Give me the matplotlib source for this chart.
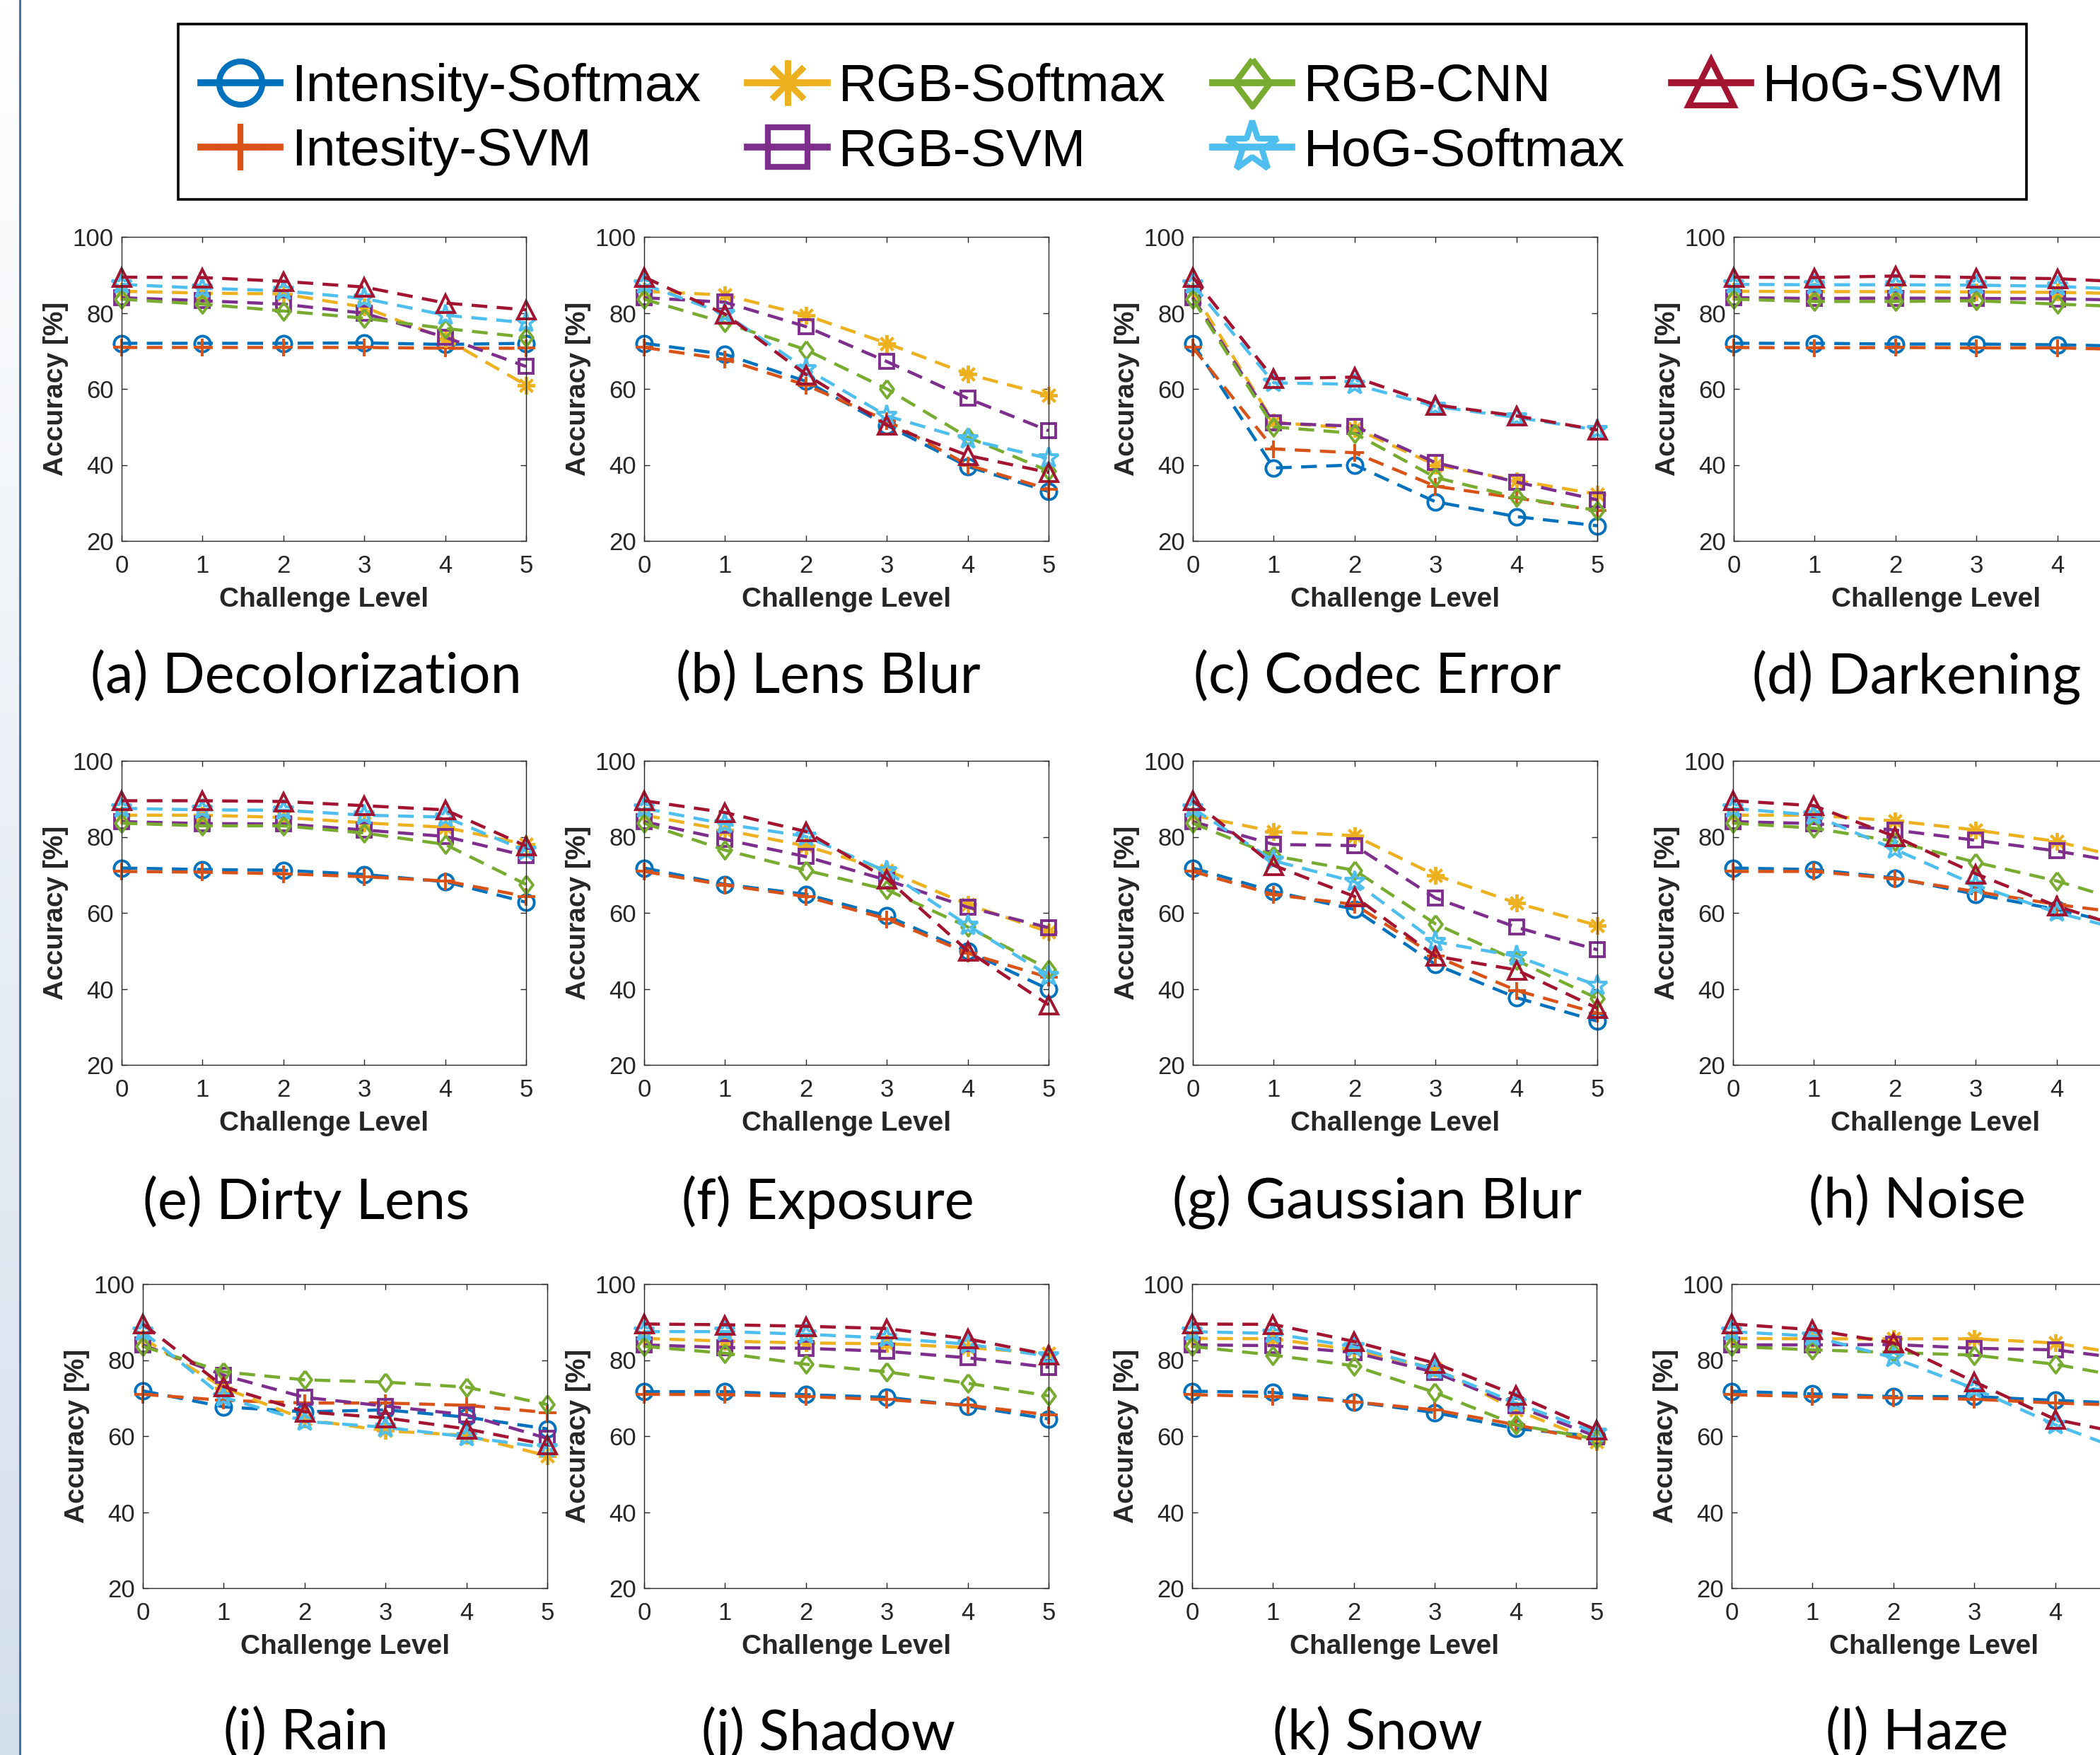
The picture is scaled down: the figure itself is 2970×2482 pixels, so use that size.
import numpy as np
import matplotlib
matplotlib.use("Agg")
import matplotlib.pyplot as plt
from matplotlib.lines import Line2D
from matplotlib.patches import Rectangle
from matplotlib.colors import LinearSegmentedColormap

# ---- data -------------------------------------------------------------
levels = [0, 1, 2, 3, 4, 5]

panel_titles = ["(a) Decolorization", "(b) Lens Blur", "(c) Codec Error", "(d) Darkening",
                "(e) Dirty Lens", "(f) Exposure", "(g) Gaussian Blur", "(h) Noise",
                "(i) Rain", "(j) Shadow", "(k) Snow", "(l) Haze"]

method_names = ["Intensity-Softmax", "Intesity-SVM", "RGB-Softmax", "RGB-SVM",
                "RGB-CNN", "HoG-Softmax", "HoG-SVM"]

# one row per panel (a..l), one column per challenge level
intensity_softmax = [
    [72.0, 72.0, 72.0, 72.1, 71.7, 72.0],
    [72.0, 69.1, 62.0, 50.4, 39.6, 33.0],
    [72.0, 39.2, 40.0, 30.3, 26.4, 24.0],
    [72.0, 72.0, 71.8, 71.8, 71.6, 71.2],
    [71.8, 71.4, 71.2, 70.1, 68.2, 62.8],
    [71.8, 67.5, 64.9, 59.2, 49.9, 39.9],
    [71.8, 65.6, 60.9, 46.4, 37.7, 31.5],
    [71.8, 71.4, 69.2, 64.9, 60.9, 56.0],
    [71.9, 67.7, 66.4, 66.9, 65.0, 61.9],
    [71.7, 71.7, 70.9, 70.2, 67.9, 64.5],
    [71.8, 71.5, 69.0, 66.2, 62.0, 59.9],
    [71.8, 71.1, 70.4, 70.4, 69.4, 68.5],
]
intensity_svm = [
    [70.9, 70.9, 70.9, 70.9, 70.7, 70.7],
    [70.9, 67.8, 61.0, 51.7, 40.0, 33.6],
    [70.9, 44.2, 43.2, 34.4, 31.3, 28.0],
    [70.9, 70.8, 70.9, 70.8, 70.8, 70.3],
    [70.9, 70.7, 70.3, 69.5, 68.4, 64.3],
    [70.9, 67.3, 64.3, 58.4, 49.4, 43.0],
    [70.9, 64.8, 62.2, 48.6, 39.6, 33.6],
    [70.9, 70.9, 69.0, 65.6, 62.2, 59.5],
    [71.0, 69.4, 68.7, 68.7, 68.1, 66.2],
    [71.0, 70.9, 70.4, 69.6, 68.1, 65.6],
    [70.9, 70.4, 69.0, 66.9, 63.0, 58.5],
    [70.9, 70.4, 70.1, 69.7, 68.7, 68.0],
]
rgb_softmax = [
    [85.7, 85.2, 85.0, 81.5, 73.2, 61.0],
    [85.7, 84.7, 79.4, 72.0, 63.9, 58.3],
    [85.7, 51.2, 49.6, 40.0, 35.9, 32.3],
    [85.7, 85.6, 85.6, 85.5, 85.4, 85.0],
    [85.7, 85.7, 85.1, 83.7, 82.5, 78.0],
    [85.7, 81.8, 77.6, 71.2, 62.2, 55.0],
    [85.7, 81.4, 80.3, 69.9, 62.6, 56.7],
    [85.7, 85.7, 84.2, 81.8, 78.8, 73.5],
    [85.7, 72.7, 64.4, 61.4, 60.2, 54.8],
    [85.7, 85.0, 84.5, 84.3, 83.3, 81.7],
    [85.7, 85.6, 82.7, 77.8, 66.9, 58.5],
    [85.7, 85.6, 85.6, 85.6, 84.5, 81.0],
]
rgb_svm = [
    [84.0, 83.2, 82.3, 79.9, 73.6, 65.9],
    [84.0, 82.8, 76.4, 67.2, 57.5, 49.0],
    [84.0, 51.0, 50.2, 40.6, 35.5, 30.8],
    [84.0, 83.8, 83.9, 83.8, 83.7, 83.3],
    [84.0, 83.5, 83.4, 81.8, 80.1, 75.0],
    [84.0, 79.3, 74.8, 68.6, 61.5, 56.1],
    [84.0, 78.0, 77.7, 63.9, 56.2, 50.3],
    [84.0, 83.5, 81.8, 79.1, 76.3, 72.5],
    [84.0, 76.0, 70.2, 67.9, 65.6, 59.4],
    [84.0, 83.3, 83.1, 82.3, 80.6, 78.1],
    [84.0, 83.8, 82.0, 76.8, 68.0, 59.9],
    [84.0, 84.0, 84.1, 83.1, 82.7, 80.0],
]
rgb_cnn = [
    [83.6, 82.3, 80.5, 78.6, 75.9, 73.6],
    [83.6, 77.4, 70.3, 60.0, 47.3, 38.4],
    [83.6, 50.0, 48.3, 36.7, 31.5, 28.0],
    [83.6, 83.0, 83.0, 83.2, 82.3, 81.5],
    [83.6, 82.9, 82.9, 81.0, 78.0, 67.5],
    [83.6, 76.5, 71.2, 66.1, 56.3, 45.2],
    [83.6, 75.0, 71.2, 57.1, 47.5, 37.5],
    [83.6, 82.3, 78.8, 73.3, 68.4, 62.0],
    [83.6, 76.9, 74.8, 74.2, 72.9, 68.3],
    [83.6, 81.8, 78.9, 76.9, 73.9, 70.6],
    [83.6, 81.3, 78.5, 71.5, 63.0, 59.2],
    [83.6, 82.7, 82.0, 81.3, 78.9, 75.0],
]
hog_softmax = [
    [87.5, 86.5, 85.8, 83.8, 79.4, 77.4],
    [87.5, 79.7, 65.3, 52.9, 46.7, 41.7],
    [87.5, 61.6, 61.2, 55.4, 52.5, 49.2],
    [87.5, 87.4, 87.4, 87.3, 87.0, 86.0],
    [87.5, 87.1, 87.0, 85.7, 85.2, 76.3],
    [87.5, 83.4, 80.1, 70.9, 56.7, 43.5],
    [87.5, 73.7, 68.2, 52.4, 48.6, 40.9],
    [87.5, 85.7, 76.7, 67.3, 60.1, 54.5],
    [87.5, 70.2, 63.9, 62.3, 59.8, 56.9],
    [87.5, 87.5, 86.8, 85.8, 84.2, 81.0],
    [87.5, 87.0, 83.5, 77.5, 68.7, 60.9],
    [87.5, 86.3, 80.6, 72.5, 63.0, 55.0],
]
hog_svm = [
    [89.4, 89.3, 88.3, 86.8, 82.6, 80.8],
    [89.4, 79.7, 63.8, 50.5, 42.5, 38.0],
    [89.4, 62.7, 63.1, 55.8, 52.9, 49.2],
    [89.4, 89.3, 89.7, 89.3, 89.0, 88.0],
    [89.5, 89.5, 89.3, 88.2, 87.1, 77.6],
    [89.5, 86.4, 81.4, 69.0, 50.0, 35.8],
    [89.5, 72.5, 64.3, 48.6, 45.0, 34.9],
    [89.5, 88.2, 80.1, 70.3, 61.8, 55.0],
    [89.5, 73.0, 66.4, 64.8, 61.9, 57.7],
    [89.5, 89.3, 88.9, 88.3, 85.6, 81.4],
    [89.5, 89.4, 84.9, 79.2, 70.8, 61.6],
    [89.5, 88.0, 84.5, 74.3, 64.4, 60.0],
]

all_series = [intensity_softmax, intensity_svm, rgb_softmax, rgb_svm,
              rgb_cnn, hog_softmax, hog_svm]

# ---- styles -----------------------------------------------------------
diamond = [(0, 1), (0.75, 0), (0, -1), (-0.75, 0), (0, 1)]
colors = ["#0072BD", "#D95319", "#EDB120", "#7E2F8E", "#77AC30", "#4DBEEE", "#A2142F"]
markers = ["o", "+", (8, 2, 0), "s", diamond, "*", "^"]
msizes = [16, 18, 18, 15, 18, 21, 18]
leg_msizes = [44, 48, 46, 40, 48, 54, 46]

W, H = 2970, 2482
AX_W, AX_H = 572, 430
row_tops = [335, 1076, 1816]
col_lefts = [[172, 911, 1687, 2452],
             [172, 911, 1687, 2451],
             [202, 911, 1686, 2449]]
caption_x = [433, 1171, 1948, 2711]
caption_y = [958, 1700, 2452]
LEG_X0, LEG_X1, LEG_Y0, LEG_Y1 = 252, 2866, 34, 282

plt.rcParams["font.family"] = ["Liberation Sans", "DejaVu Sans"]
txt_col = "#262626"

fig = plt.figure(figsize=(W / 100, H / 100), dpi=100)

# pale strip and blue rule on the left edge
strip = fig.add_axes([0, 0, 27 / W, 1])
grad = np.linspace(0, 1, 256).reshape(-1, 1)
cmap = LinearSegmentedColormap.from_list("edge", ["#ffffff", "#d4dfed"])
strip.imshow(grad, aspect="auto", cmap=cmap, extent=[0, 1, 0, 1], origin="upper")
strip.set_axis_off()
fig.add_artist(Line2D([28.5 / W, 28.5 / W], [0, 1], transform=fig.transFigure,
                      color="#4a70aa", lw=2.2))

for k, title in enumerate(panel_titles):
    r, c = divmod(k, 4)
    left = col_lefts[r][c]
    top = row_tops[r]
    ax = fig.add_axes([left / W, 1 - (top + AX_H) / H, AX_W / W, AX_H / H])
    for vals, col, mk, ms in zip(all_series, colors, markers, msizes):
        ax.plot(levels, vals[k], color=col, lw=3.2, ls="--", dashes=(5, 3),
                marker=mk, markersize=ms, mfc="none", mec=col, mew=2.8,
                clip_on=False)
    ax.set_xlim(0, 5)
    ax.set_ylim(20, 100)
    ax.set_xticks(levels)
    ax.set_yticks([20, 40, 60, 80, 100])
    ax.tick_params(direction="in", top=True, right=True, length=6, width=1.0,
                   labelsize=25, colors=txt_col)
    ax.tick_params(axis="x", pad=14)
    ax.tick_params(axis="y", pad=8)
    for sp in ax.spines.values():
        sp.set_color(txt_col)
        sp.set_linewidth(1.0)
    ax.set_xlabel("Challenge Level", fontsize=28, fontweight="bold", color=txt_col, labelpad=9)
    ax.set_ylabel("Accuracy [%]", fontsize=28, fontweight="bold", color=txt_col, labelpad=4)
    fig.text(caption_x[c] / W, 1 - caption_y[r] / H, title, family="Lato",
             fontsize=57, ha="center", va="center", color="black")

# legend box drawn separately so its padding can differ from the entry spacing
fig.add_artist(Rectangle((LEG_X0 / W, 1 - LEG_Y1 / H), (LEG_X1 - LEG_X0) / W,
                         (LEG_Y1 - LEG_Y0) / H, transform=fig.transFigure,
                         fill=False, lw=2.6, ec="black"))
handles = [Line2D([], [], color=col, lw=7, ls="-", marker=mk, markersize=ms,
                  mfc="none", mec=col, mew=6)
           for col, mk, ms in zip(colors, markers, leg_msizes)]
fig.legend(handles, method_names, loc="center",
           bbox_to_anchor=(LEG_X0 / W, 1 - (LEG_Y1 + 11) / H, (LEG_X1 - LEG_X0) / W,
                           (LEG_Y1 - LEG_Y0) / H),
           mode="expand", ncol=4, fontsize=54, handlelength=1.5,
           handletextpad=0.22, labelspacing=0.3, borderpad=0.42,
           borderaxespad=0, frameon=False)

fig.savefig("out.png", dpi=100)
